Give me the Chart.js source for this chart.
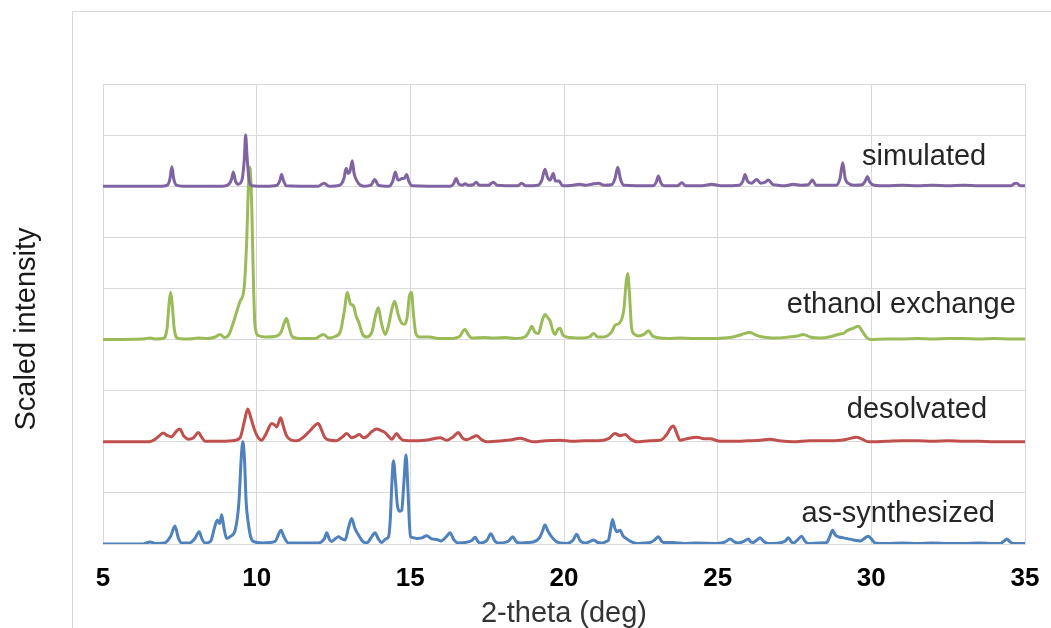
<!DOCTYPE html>
<html>
<head>
<meta charset="utf-8">
<script src="https://cdn.jsdelivr.net/npm/chart.js@4.4.1/dist/chart.umd.min.js"></script>
<style>
html,body{margin:0;padding:0;background:#fff;}
canvas{display:block;}
</style>
</head>
<body>
<canvas id="c" width="1051" height="628"></canvas>
<script>
// ---- data: [2-theta (deg), scaled intensity above each trace's own baseline] ----
const asSynthesized = [[5,0],[6.3,0],[6.53,0.04],[6.7,0.01],[7.0,0.02],[7.2,0.15],[7.34,0.35],[7.45,0.12],[7.56,0.02],[7.8,0.02],[7.98,0.1],[8.13,0.24],[8.22,0.1],[8.32,0.02],[8.5,0.05],[8.62,0.3],[8.72,0.47],[8.8,0.4],[8.86,0.57],[8.94,0.3],[9.02,0.11],[9.15,0.15],[9.3,0.27],[9.42,0.8],[9.5,1.7],[9.55,2.0],[9.6,1.7],[9.66,0.8],[9.73,0.4],[9.8,0.15],[9.89,0.05],[10.2,0.02],[10.6,0.05],[10.72,0.2],[10.79,0.27],[10.88,0.15],[11.03,0.02],[11.5,0.02],[12.0,0.02],[12.2,0.1],[12.28,0.22],[12.36,0.1],[12.44,0.05],[12.55,0.1],[12.66,0.14],[12.78,0.1],[12.88,0.08],[12.98,0.3],[13.09,0.5],[13.2,0.3],[13.31,0.18],[13.45,0.05],[13.58,0.02],[13.75,0.15],[13.85,0.22],[13.96,0.1],[14.07,0.03],[14.2,0.1],[14.29,0.14],[14.35,0.5],[14.4,1.2],[14.45,1.63],[14.52,1.2],[14.58,0.75],[14.66,0.64],[14.72,0.66],[14.79,1.2],[14.86,1.74],[14.92,1.1],[14.97,0.4],[15.01,0.14],[15.1,0.12],[15.21,0.11],[15.38,0.12],[15.53,0.16],[15.7,0.1],[15.86,0.09],[16.0,0.06],[16.18,0.15],[16.29,0.22],[16.42,0.08],[16.56,0.02],[16.8,0.03],[17.0,0.07],[17.11,0.13],[17.2,0.05],[17.27,0.02],[17.5,0.08],[17.62,0.2],[17.75,0.06],[17.86,0.02],[18.2,0.06],[18.33,0.14],[18.45,0.04],[18.57,0.02],[18.8,0.03],[19.0,0.04],[19.2,0.12],[19.3,0.25],[19.38,0.37],[19.48,0.25],[19.6,0.14],[19.75,0.05],[19.87,0.02],[20.09,0.01],[20.3,0.08],[20.41,0.19],[20.52,0.07],[20.69,0.02],[20.85,0.05],[20.96,0.08],[21.1,0.03],[21.23,0.02],[21.38,0.05],[21.45,0.08],[21.52,0.3],[21.58,0.48],[21.65,0.32],[21.72,0.24],[21.82,0.27],[21.92,0.16],[22.04,0.1],[22.2,0.04],[22.37,0.01],[22.6,0.02],[22.8,0.03],[22.95,0.08],[23.07,0.14],[23.17,0.06],[23.24,0.03],[23.56,0.03],[23.9,0.01],[24.3,0.02],[24.97,0.01],[25.25,0.04],[25.4,0.1],[25.55,0.04],[25.67,0.02],[25.85,0.05],[26.0,0.1],[26.08,0.04],[26.16,0.03],[26.28,0.08],[26.38,0.12],[26.5,0.05],[26.65,0.01],[27.0,0.02],[27.2,0.06],[27.3,0.12],[27.4,0.04],[27.46,0.02],[27.6,0.08],[27.73,0.15],[27.85,0.05],[27.95,0.01],[28.3,0.02],[28.55,0.03],[28.65,0.15],[28.74,0.27],[28.82,0.18],[28.93,0.14],[29.1,0.12],[29.25,0.1],[29.42,0.08],[29.65,0.06],[29.8,0.12],[29.9,0.15],[30.0,0.1],[30.12,0.02],[30.5,0.01],[31,0.02],[31.5,0.01],[32,0.02],[32.5,0.01],[33,0.01],[33.5,0.02],[34.0,0.01],[34.19,0.01],[34.32,0.06],[34.41,0.1],[34.5,0.05],[34.62,0.01],[35,0.01]];

const desolvated = [[5,0],[6.5,0],[6.7,0.05],[6.8,0.1],[6.96,0.17],[7.1,0.12],[7.23,0.1],[7.38,0.2],[7.5,0.25],[7.62,0.12],[7.78,0.05],[7.95,0.08],[8.1,0.18],[8.22,0.08],[8.32,0.01],[8.8,0.01],[9.2,0.02],[9.46,0.08],[9.6,0.4],[9.71,0.64],[9.82,0.45],[9.95,0.2],[10.06,0.07],[10.16,0.03],[10.3,0.15],[10.49,0.36],[10.6,0.32],[10.65,0.29],[10.78,0.47],[10.87,0.3],[10.97,0.12],[11.1,0.04],[11.3,0.02],[11.5,0.08],[11.74,0.22],[12.0,0.36],[12.12,0.22],[12.22,0.08],[12.4,0.03],[12.6,0.02],[12.8,0.1],[12.93,0.16],[13.09,0.08],[13.2,0.1],[13.34,0.14],[13.48,0.08],[13.58,0.1],[13.75,0.2],[13.9,0.25],[14.05,0.22],[14.18,0.18],[14.3,0.1],[14.4,0.05],[14.55,0.16],[14.66,0.08],[14.77,0.03],[15.2,0.02],[15.6,0.04],[15.97,0.08],[16.18,0.03],[16.4,0.1],[16.56,0.18],[16.7,0.07],[16.83,0.04],[17.0,0.08],[17.16,0.12],[17.3,0.05],[17.48,0.0],[18.0,0.02],[18.3,0.04],[18.57,0.07],[18.8,0.03],[19.0,0.0],[19.4,0.02],[19.87,0.03],[20.3,0.01],[20.7,0.02],[21.1,0.02],[21.45,0.06],[21.66,0.16],[21.82,0.12],[21.99,0.14],[22.15,0.06],[22.37,0.0],[22.8,0.02],[23.13,0.03],[23.34,0.14],[23.48,0.28],[23.56,0.31],[23.66,0.18],[23.78,0.03],[24.0,0.06],[24.32,0.09],[24.55,0.06],[24.75,0.06],[25.08,0.01],[25.5,0.01],[26.0,0.02],[26.4,0.03],[26.7,0.05],[27.0,0.02],[27.46,0.0],[28.0,0.02],[28.5,0.02],[29.0,0.03],[29.2,0.05],[29.52,0.09],[29.7,0.05],[29.9,0.0],[30.5,0.01],[31,0.02],[31.5,0.02],[32,0.01],[32.5,0.02],[33,0.01],[33.5,0.01],[34,0.0],[35,0.0]];

const ethanolExchange = [[5,0],[6.3,0.01],[6.53,0.03],[6.7,0.01],[6.95,0.02],[7.08,0.2],[7.15,0.7],[7.2,0.92],[7.25,0.7],[7.32,0.2],[7.45,0.02],[7.8,0.01],[8.1,0.03],[8.4,0.02],[8.65,0.05],[8.81,0.1],[8.95,0.04],[9.1,0.1],[9.25,0.35],[9.46,0.75],[9.59,1.0],[9.68,2.0],[9.73,3.0],[9.78,3.37],[9.84,2.6],[9.9,1.0],[9.95,0.25],[10.05,0.08],[10.3,0.05],[10.6,0.06],[10.8,0.15],[10.9,0.33],[10.97,0.41],[11.05,0.25],[11.15,0.06],[11.4,0.02],[11.9,0.02],[12.17,0.1],[12.35,0.03],[12.55,0.06],[12.72,0.15],[12.85,0.55],[12.95,0.92],[13.05,0.7],[13.15,0.66],[13.24,0.45],[13.31,0.36],[13.45,0.1],[13.58,0.05],[13.75,0.15],[13.88,0.5],[13.96,0.62],[14.05,0.35],[14.18,0.1],[14.3,0.3],[14.4,0.6],[14.49,0.75],[14.6,0.5],[14.72,0.32],[14.82,0.3],[14.9,0.45],[14.97,0.85],[15.04,0.92],[15.1,0.5],[15.18,0.12],[15.3,0.05],[15.64,0.05],[15.9,0.02],[16.3,0.02],[16.6,0.06],[16.72,0.17],[16.78,0.2],[16.88,0.1],[17.0,0.03],[17.4,0.04],[17.7,0.03],[18.1,0.04],[18.4,0.02],[18.75,0.06],[18.88,0.18],[18.95,0.26],[19.05,0.15],[19.17,0.12],[19.28,0.35],[19.38,0.49],[19.48,0.42],[19.55,0.36],[19.65,0.15],[19.71,0.1],[19.8,0.2],[19.87,0.22],[19.97,0.08],[20.2,0.04],[20.6,0.03],[20.85,0.06],[20.96,0.12],[21.1,0.05],[21.28,0.05],[21.55,0.15],[21.66,0.28],[21.82,0.33],[21.95,0.6],[22.02,1.1],[22.07,1.29],[22.13,0.9],[22.2,0.22],[22.3,0.1],[22.42,0.07],[22.6,0.1],[22.75,0.17],[22.88,0.07],[23.02,0.04],[23.4,0.02],[23.77,0.03],[24.2,0.02],[24.75,0.02],[25.2,0.03],[25.5,0.05],[25.78,0.1],[26.05,0.14],[26.2,0.1],[26.38,0.06],[26.6,0.04],[26.92,0.03],[27.3,0.05],[27.6,0.07],[27.79,0.1],[28.0,0.05],[28.33,0.03],[28.7,0.06],[28.98,0.11],[29.1,0.12],[29.2,0.17],[29.4,0.22],[29.58,0.26],[29.72,0.15],[29.85,0.04],[29.96,0.0],[30.5,0.01],[31,0.01],[31.5,0.02],[32,0.01],[32.5,0.02],[33,0.02],[33.5,0.01],[34,0.02],[34.5,0.01],[35,0.01]];

const simulated = [[5,0],[6.9,0],[7.09,0.02],[7.18,0.15],[7.24,0.38],[7.3,0.15],[7.39,0.02],[7.6,0],[8.9,0],[9.1,0.04],[9.19,0.15],[9.24,0.28],[9.31,0.1],[9.4,0.04],[9.52,0.12],[9.6,0.55],[9.64,1.0],[9.69,0.55],[9.76,0.1],[9.85,0.01],[10.3,0],[10.66,0.02],[10.76,0.12],[10.81,0.23],[10.87,0.12],[10.96,0.01],[12.0,0],[12.19,0.06],[12.35,0],[12.7,0.02],[12.84,0.15],[12.91,0.35],[12.98,0.25],[13.04,0.3],[13.11,0.5],[13.17,0.25],[13.25,0.12],[13.35,0.03],[13.5,0],[13.72,0.02],[13.84,0.13],[13.96,0.02],[14.3,0],[14.43,0.1],[14.51,0.28],[14.6,0.12],[14.66,0.13],[14.72,0.15],[14.8,0.15],[14.88,0.23],[14.95,0.1],[15.05,0.01],[16.3,0],[16.41,0.05],[16.49,0.15],[16.58,0.04],[16.7,0.02],[16.78,0.05],[16.88,0.02],[17.05,0.03],[17.14,0.08],[17.24,0.02],[17.55,0.02],[17.7,0.08],[17.82,0.02],[18.5,0.01],[18.62,0.06],[18.75,0.01],[19.15,0.02],[19.28,0.12],[19.38,0.33],[19.46,0.18],[19.55,0.12],[19.65,0.25],[19.72,0.1],[19.84,0.1],[19.95,0.01],[20.3,0.02],[20.5,0.04],[20.7,0.02],[20.9,0.04],[21.12,0.06],[21.3,0.02],[21.55,0.03],[21.66,0.15],[21.75,0.37],[21.84,0.13],[21.95,0.02],[22.9,0.01],[23.0,0.08],[23.07,0.2],[23.15,0.07],[23.25,0.01],[23.7,0.01],[23.83,0.07],[23.95,0.01],[24.5,0.01],[24.81,0.04],[25.1,0.01],[25.7,0.02],[25.82,0.1],[25.89,0.23],[25.97,0.1],[26.1,0.06],[26.27,0.13],[26.4,0.06],[26.55,0.08],[26.65,0.12],[26.78,0.04],[26.95,0.02],[27.2,0.01],[27.46,0.04],[27.7,0.02],[27.95,0.03],[28.08,0.12],[28.2,0.02],[28.85,0.02],[28.98,0.15],[29.07,0.46],[29.15,0.15],[29.3,0.04],[29.45,0.02],[29.7,0.03],[29.8,0.1],[29.87,0.19],[29.95,0.08],[30.1,0.02],[30.5,0.01],[31,0.02],[31.5,0.01],[32,0.02],[32.5,0.01],[33,0.02],[33.5,0.01],[34,0.01],[34.55,0.01],[34.65,0.05],[34.73,0.06],[34.85,0.01],[35,0.01]];

const seriesNames = ['simulated', 'ethanol exchange', 'desolvated', 'as-synthesized'];
const seriesData = [simulated, ethanolExchange, desolvated, asSynthesized];
const seriesOffsets = [7, 4, 2, 0];          // vertical stacking offsets (y units)
const seriesColors = ['#8064A2', '#9BBB59', '#C0504D', '#4F81BD'];
const labelAnchors = [[29.7, 7.42], [27.25, 4.51], [29.2, 2.46], [27.73, 0.44]]; // [deg, y] of each trace label

const xTitle = '2-theta (deg)';
const yTitle = 'Scaled intensity';
const xTicksMin = 5, xTicksMax = 35, xTickStep = 5;
const yMin = 0, yMax = 9, yStep = 1;

const FONT = '"Liberation Sans", Arial, Helvetica, sans-serif';

const framePlugin = {
  id: 'frame',
  beforeDraw(chart) {
    const c = chart.ctx;
    c.save();
    c.fillStyle = '#ffffff';
    c.fillRect(0, 0, chart.width, chart.height);
    c.strokeStyle = '#d9d9d9';
    c.lineWidth = 1;
    c.strokeRect(72.5, 11.5, 2000, 2000);
    // rotated y-axis title
    c.translate(35, 329);
    c.rotate(-Math.PI / 2);
    c.font = '29px ' + FONT;
    c.fillStyle = '#1a1a1a';
    c.textAlign = 'center';
    c.textBaseline = 'alphabetic';
    c.fillText(yTitle, 0, 0);
    c.restore();
  }
};

const labelPlugin = {
  id: 'traceLabels',
  afterDatasetsDraw(chart) {
    const c = chart.ctx;
    const xs = chart.scales.x, ys = chart.scales.y;
    c.save();
    c.font = '29px ' + FONT;
    c.fillStyle = '#262626';
    c.textAlign = 'left';
    c.textBaseline = 'alphabetic';
    seriesNames.forEach((name, i) => {
      const [ax, ay] = labelAnchors[i];
      c.fillText(name, xs.getPixelForValue(ax), ys.getPixelForValue(ay));
    });
    c.restore();
  }
};

const datasets = seriesData.map((arr, i) => ({
  label: seriesNames[i],
  data: arr.map(([x, y]) => ({ x: x, y: y + seriesOffsets[i] })),
  borderColor: seriesColors[i],
  backgroundColor: seriesColors[i],
  borderWidth: 3,
  pointRadius: 0,
  fill: false,
  cubicInterpolationMode: 'monotone',
  borderJoinStyle: 'round',
  borderCapStyle: 'round'
}));

new Chart(document.getElementById('c'), {
  type: 'line',
  data: { datasets: datasets },
  plugins: [framePlugin, labelPlugin],
  options: {
    responsive: false,
    animation: false,
    devicePixelRatio: 1,
    layout: { padding: { left: 0, top: 84, right: 26, bottom: 0 } },
    plugins: { legend: { display: false }, tooltip: { enabled: false } },
    scales: {
      x: {
        type: 'linear',
        min: xTicksMin, max: xTicksMax,
        ticks: { stepSize: xTickStep, color: '#000', font: { family: FONT, size: 26, weight: 'bold' }, padding: 19, maxRotation: 0 },
        grid: { color: '#d9d9d9', lineWidth: 1, drawTicks: false },
        border: { color: '#d9d9d9' },
        title: { display: true, text: xTitle, color: '#333333', font: { family: FONT, size: 29, lineHeight: 1.0 }, padding: { top: 0, bottom: 0 } },
        afterFit(scale) { scale.height = 84; scale.paddingLeft = 0; scale.paddingRight = 0; }
      },
      y: {
        min: yMin, max: yMax,
        ticks: { stepSize: yStep, display: false },
        grid: { color: '#d9d9d9', lineWidth: 1, drawTicks: false },
        border: { color: '#d9d9d9' },
        title: { display: false },
        afterFit(scale) { scale.width = 103; }
      }
    }
  }
});
</script>
</body>
</html>
